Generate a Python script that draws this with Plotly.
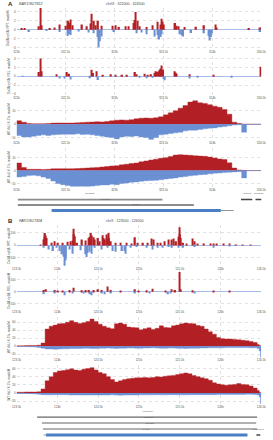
import plotly.graph_objects as go

W, H = 273, 440
RED = '#b22025'
BLUE = '#6b8fd3'
FONT = 'Liberation Sans, Arial, sans-serif'

# ---------------- Panel A data (chrIX : 322000 - 324500) ----------------
A1_pos_x = [322050, 322079, 322243, 322341, 322390, 322440, 322505, 322528, 322554, 322571,
            322669, 322719, 322768, 322791, 322833, 322866, 322981, 323014, 323047, 323112,
            323145, 323194, 323217, 323234, 323260, 323326, 323391, 323440, 323483, 323506,
            323621, 323654, 323719, 323834, 323916, 324031, 324375, 324490,
            322229, 322257, 322754, 322805, 323203, 323469, 323494, 322541, 323636, 324045]
A1_pos_y = [0.3, 0.3, 5.2, 0.4, 0.5, 1.2, 0.9, 2.0, 2.3, 1.0,
            1.2, 0.8, 3.6, 2.0, 2.0, 0.9, 0.9, 1.0, 0.6, 0.8,
            0.8, 1.5, 4.0, 2.0, 0.8, 0.6, 1.0, 1.8, 2.5, 1.2,
            1.5, 0.8, 0.6, 0.7, 1.0, 1.2, 0.4, 0.5,
            0.8, 1.0, 1.4, 1.0, 2.2, 1.2, 1.8, 1.6, 0.9, 0.5]
A1_neg_x = [322128, 322308, 322440, 322522, 322554, 322637, 322735, 322784, 322840, 322866,
            322997, 323227, 323276, 323326, 323408, 323457, 323483, 323670, 323703, 323785,
            323916, 323975, 323998, 324490,
            322538, 322826, 322853, 323442, 323472, 323688, 323962, 323988]
A1_neg_y = [-0.5, -0.3, -0.5, -1.4, -1.2, -0.4, -0.6, -0.8, -4.0, -1.5,
            -0.5, -0.8, -0.6, -1.0, -1.5, -2.2, -1.0, -1.0, -1.5, -0.7,
            -0.8, -2.4, -0.8, -0.5,
            -1.0, -1.6, -2.6, -1.2, -1.6, -1.2, -1.4, -1.6]

A2_pos_x = [322243, 322407, 322515, 322538, 322768, 322817, 322883, 322965, 323014, 323079,
            323128, 323211, 323227, 323309, 323342, 323375, 323408, 323424, 323450, 323463,
            323483, 323499, 323614, 323637, 323768, 324015, 324497,
            322230, 322256, 322783, 323437, 323473, 323626]
A2_pos_y = [4.1, 0.5, 1.0, 0.6, 1.5, 1.2, 0.4, 0.5, 0.3, 0.3,
            0.4, 1.0, 0.5, 0.6, 0.3, 0.5, 0.8, 1.2, 1.2, 1.5,
            2.5, 1.5, 1.2, 0.6, 0.5, 0.4, 2.2,
            1.0, 1.2, 0.8, 1.0, 1.8, 0.9]
A2_neg_x = [322062, 322440, 322489, 322554, 322751, 322833, 323260, 323326, 323391, 323516,
            323768, 323850, 324195, 323505]
A2_neg_y = [-0.1, -0.5, -0.5, -0.7, -0.4, -0.8, -0.3, -0.4, -0.3, -0.9,
            -0.5, -0.3, -0.2, -0.6]

A_cov_x = list(range(322000, 324501, 50))
A3_pos = [2.6, 1.5, 0.5, 0.4, 0.4, 0.4, 0.5, 0.8, 0.9, 0.9,
          0.8, 0.9, 1.0, 1.3, 1.5, 1.6, 1.8, 1.7, 2.0, 2.5,
          3.0, 3.2, 3.0, 3.4, 4.0, 4.5, 4.6, 4.4, 4.8, 5.5,
          7.0, 8.5, 10.0, 12.0, 14.0, 16.5, 17.5, 16.0, 15.5, 14.6,
          13.5, 12.6, 11.0, 7.5, 1.5, 0.5, 0.1, 0, 0, 0, 0]
A3_neg = [-8.5, -9.5, -9.6, -9.0, -8.4, -8.0, -8.4, -8.0, -7.8, -7.6,
          -7.5, -7.6, -7.2, -7.8, -7.6, -8.0, -8.5, -9.0, -9.5, -10.0,
          -11.0, -9.5, -9.0, -9.2, -8.8, -9.5, -10.0, -11.5, -10.0, -8.0,
          -7.5, -7.0, -6.5, -6.0, -5.0, -4.5, -4.5, -4.0, -3.5, -3.0,
          -2.8, -2.2, -1.8, -1.2, -0.6, -0.4, -6.0, 0, 0, 0, 0]
A4_pos = [5.9, 2.5, 1.0, 1.0, 1.0, 0.9, 1.0, 1.4, 1.5, 1.5,
          1.4, 1.5, 1.6, 1.8, 2.0, 2.2, 2.5, 2.8, 3.2, 3.6,
          3.8, 4.5, 5.0, 5.5, 5.9, 6.8, 7.5, 8.2, 8.8, 9.5,
          10.0, 10.8, 12.0, 12.3, 12.0, 11.8, 11.5, 11.2, 11.0, 10.5,
          9.8, 9.0, 8.5, 6.0, 2.0, 0.5, 0.2, 0, 0, 0, 0]
A4_neg = [-5.0, -4.5, -3.8, -3.5, -4.0, -5.0, -6.0, -8.0, -10.0, -10.8,
          -11.5, -12.8, -13.0, -12.5, -12.8, -12.0, -11.5, -11.0, -11.0, -10.5,
          -10.8, -10.0, -9.5, -9.0, -8.7, -8.2, -7.8, -7.7, -7.5, -7.0,
          -6.5, -6.0, -5.6, -5.0, -4.5, -4.0, -3.6, -3.2, -3.0, -2.5,
          -2.0, -1.8, -1.5, -1.2, -1.0, -0.8, -5.6, 0, 0, 0, 0]

A_gene_names = ["SUT812", "XUT0334", "BAR1", "ARS913", "SUT813"]
A_gene_start = [322013, 322013, 322358, 324293, 324441]
A_gene_end = [323490, 323811, 324087, 324408, 324507]
A_gene_row = [0, 1, 2, 0, 0]
A_gene_kind = ["nc", "nc", "cds", "small", "small"]
A_utr = [324087, 324218]

# ---------------- Panel B data (chrX : 123500 - 126500) ----------------
B1_pos_x = [123791, 123831, 123850, 123870, 123929, 123968, 124008, 124067, 124126, 124165,
            124197, 124217, 124244, 124303, 124343, 124390, 124413, 124441, 124461, 124500,
            124520, 124559, 124579, 124610, 124626, 124657, 124717, 124776, 124846, 124913,
            124953, 124980, 125051, 125110, 125157, 125177, 125228, 125268, 125315, 125366,
            125398, 125425, 125457, 125496, 125516, 125543, 125583, 125661, 125681, 125720,
            125799, 125878, 125917, 125957, 126035, 126114, 126193, 126272, 126370,
            123840, 123860, 124185, 124207, 124402, 124425, 124568, 124600, 124636, 125486, 125506]
B1_pos_y = [3, 47, 100, 60, 21, 34, 21, 21, 29, 34,
            134, 74, 21, 47, 40, 60, 100, 66, 47, 60,
            34, 82, 47, 87, 100, 34, 21, 21, 21, 13,
            66, 21, 21, 21, 55, 47, 21, 21, 34, 47,
            47, 55, 34, 145, 60, 21, 13, 55, 34, 13,
            8, 8, 16, 8, 13, 8, 5, 5, 5,
            70, 80, 40, 90, 70, 80, 60, 55, 60, 70, 90]
B1_neg_x = [123831, 123890, 123949, 123988, 124028, 124059, 124087, 124106, 124146, 124185,
            124283, 124343, 124362, 124394, 124421, 124461, 124539, 124618, 124677, 124717,
            124795, 124835, 124894, 124972, 125091, 125169, 125228, 125287, 125366, 125406,
            125484, 125543, 125681, 125917, 126114,
            124075, 124097, 124352, 124372, 124825]
B1_neg_y = [-18, -32, -45, -18, -45, -71, -163, -97, -32, -66,
            -39, -66, -92, -50, -66, -18, -32, -18, -45, -50,
            -45, -66, -18, -13, -18, -32, -18, -18, -13, -18,
            -18, -18, -13, -18, -8,
            -90, -120, -70, -60, -45]

B2_pos_x = [123831, 123862, 123968, 124008, 124067, 124146, 124197, 124303, 124343, 124390,
            124441, 124500, 124539, 124618, 124657, 124776, 124953, 124992, 125091, 125169,
            125327, 125398, 125445, 125496, 125516, 125661, 125917, 126114]
B2_pos_y = [14, 19, 14, 8, 8, 14, 33, 11, 14, 14,
            14, 19, 14, 42, 14, 8, 19, 8, 11, 25,
            8, 19, 14, 164, 19, 11, 8, 5]
B2_neg_x = [123831, 123968, 124087, 124185, 124323, 124402, 124421, 124539, 124579, 124657,
            124953, 125130, 125358, 125386, 125681]
B2_neg_y = [-22, -14, -31, -14, -14, -22, -31, -8, -22, -8,
            -8, -8, -22, -8, -8]

B_cov_x = list(range(123500, 126451, 50)) + [126475, 126490, 126500]
B3_pos = [1, 1, 1.5, 2, 2, 2.5, 8, 43, 50, 53,
          56, 57, 60, 64, 60, 57, 59, 62, 68, 62,
          55, 50, 46, 44, 56, 58, 55, 48, 47, 46,
          41, 44, 46, 42, 45, 51, 47, 46, 51, 53,
          56, 58, 57, 56, 52, 50, 43, 36, 30, 22,
          19, 18, 18, 17, 16, 15, 14, 12, 9, 4,
          2, 0, 0]
B3_neg = [-1, -1, -1, -1.5, -2, -3, -5, -7, -7, -7.5,
          -7, -6.5, -6.5, -6, -6, -5.5, -5, -5, -5.5, -5.5,
          -5, -5, -4.5, -5, -5.5, -5, -5, -4.5, -4.5, -5,
          -5, -4.5, -4.5, -4, -4.5, -5, -5, -4.5, -4.5, -5,
          -5, -5.5, -5, -5, -5, -4.5, -4.5, -4, -4, -4,
          -4, -3.5, -3.5, -3.5, -3.5, -3.5, -3.5, -4, -4, -6,
          -12, -30, -30]
B4_pos = [2, 2, 2.5, 2.5, 2.5, 3, 10, 30, 40, 50,
          54, 55, 57, 59, 56, 55, 58, 60, 62, 56,
          50, 47, 40, 33, 27, 30, 33, 35, 36, 37,
          37, 38, 37, 38, 40, 39, 41, 42, 43, 45,
          47, 49, 47, 43, 40, 37, 35, 31, 25, 22,
          20, 19, 20, 21, 23, 21, 20, 17, 12, 6,
          2, 0, 0]
B4_neg = [-1, -1, -1, -1.5, -2, -3, -4, -4.5, -4.5, -4,
          -4, -4, -4.5, -5, -5, -5, -5, -5, -5, -5,
          -5, -5, -5, -4.5, -5, -5.5, -5, -5, -5, -5,
          -4.5, -4.5, -4.5, -4.5, -4, -4.5, -4.5, -4, -4, -4,
          -4.5, -4.5, -4, -4, -4, -4, -4, -4, -4, -3.5,
          -3.5, -3.5, -3.5, -3.5, -3.5, -3.5, -3, -3, -3.5, -5,
          -10, -26, -26]

B_gene_names = ["XUT0710", "SUT304", "CUT211", "FAR1", "tK(CUU)J"]
B_gene_start = [123752, 123811, 123823, 123862, 126441]
B_gene_end = [126449, 126437, 126449, 126331, 126488]
B_gene_row = [0, 1, 2, 3, 3]
B_gene_kind = ["nc", "nc", "nc", "cds", "small"]
B_utr = [123831, 123862]

Y_TITLES_A = ["Dis3Δ rrp6Δ: RPT, reads/M", "Dis3Δ rrp6Δ: REL, reads/M",
              "WT 4sU: 0.5%, reads/M", "WT 4sU: 0.1%, reads/M"]
Y_TITLES_B = Y_TITLES_A

# ---------------- figure ----------------
fig = go.Figure()


def yd(top, bot):
    return [1 - bot / H, 1 - top / H]


XD = [12 / W, 266 / W]
layout = {}
annotations = []


def cov_axis(i, top, bot, yrange, yticks, xrange, dtick, title):
    xs = 'xaxis' if i == 1 else f'xaxis{i}'
    ys = 'yaxis' if i == 1 else f'yaxis{i}'
    layout[xs] = dict(domain=XD, range=xrange, anchor=f'y{i}' if i > 1 else 'y',
                      tickmode='linear', tick0=xrange[0], dtick=dtick, tickformat='~s',
                      showgrid=True, gridcolor='#e2e2e2', griddash='dot', gridwidth=0.5,
                      zeroline=False, showline=False, ticks='',
                      tickfont=dict(size=3, color='#555555', family=FONT), ticklen=0)
    layout[ys] = dict(domain=yd(top, bot), range=yrange, anchor=f'x{i}' if i > 1 else 'x',
                      tickvals=yticks, showgrid=True, gridcolor='#e2e2e2', griddash='dot',
                      gridwidth=0.5, zeroline=True, zerolinecolor='#a9bde8', zerolinewidth=0.7,
                      showline=False, ticks='',
                      tickfont=dict(size=3, color='#555555', family=FONT))
    annotations.append(dict(xref='paper', yref='paper', x=4 / W, y=1 - (top + bot) / 2 / H,
                            text=title, textangle=-90, showarrow=False,
                            font=dict(size=3, color='#555555', family=FONT),
                            xanchor='center', yanchor='middle'))


def bars(i, x, y, color, width):
    fig.add_trace(go.Bar(x=x, y=y, width=width, marker=dict(color=color, line=dict(width=0)),
                         xaxis='x' if i == 1 else f'x{i}', yaxis='y' if i == 1 else f'y{i}',
                         showlegend=False))


def area(i, x, y, color):
    fig.add_trace(go.Scatter(x=x, y=y, mode='lines', line=dict(color=color, width=0.4, shape='hv'),
                             fill='tozeroy', fillcolor=color,
                             xaxis=f'x{i}', yaxis=f'y{i}', showlegend=False))


A_RANGE = [322000, 324500]
B_RANGE = [123500, 126500]

cov_axis(1, 8, 49, [-4.3, 4.9], [-4, -2, 0, 2, 4], A_RANGE, 500, Y_TITLES_A[0])
cov_axis(2, 56, 95, [-4.2, 4.7], [-4, -2, 0, 2, 4], A_RANGE, 500, Y_TITLES_A[1])
cov_axis(3, 99, 140, [-11.6, 19], [-10, 0, 10], A_RANGE, 500, Y_TITLES_A[2])
cov_axis(4, 148, 187, [-12.3, 17.7], [-10, 0, 10], A_RANGE, 500, Y_TITLES_A[3])
cov_axis(6, 226, 267, [-168, 160], [-100, 0, 100], B_RANGE, 500, Y_TITLES_B[0])
cov_axis(7, 271, 310, [-147, 177], [-100, 0, 100], B_RANGE, 500, Y_TITLES_B[1])
cov_axis(8, 318, 358, [-27.5, 72.5], [-20, 0, 20, 40, 60], B_RANGE, 500, Y_TITLES_B[2])
cov_axis(9, 366, 405, [-27, 68], [-20, 0, 20, 40, 60], B_RANGE, 500, Y_TITLES_B[3])

bars(1, A1_pos_x, A1_pos_y, RED, 15)
bars(1, A1_neg_x, A1_neg_y, BLUE, 15)
bars(2, A2_pos_x, A2_pos_y, RED, 15)
bars(2, A2_neg_x, A2_neg_y, BLUE, 15)
area(3, A_cov_x, A3_pos, RED)
area(3, A_cov_x, A3_neg, BLUE)
area(4, A_cov_x, A4_pos, RED)
area(4, A_cov_x, A4_neg, BLUE)
bars(6, B1_pos_x, B1_pos_y, RED, 17)
bars(6, B1_neg_x, B1_neg_y, BLUE, 17)
bars(7, B2_pos_x, B2_pos_y, RED, 17)
bars(7, B2_neg_x, B2_neg_y, BLUE, 17)
area(8, B_cov_x, B3_pos, RED)
area(8, B_cov_x, B3_neg, BLUE)
area(9, B_cov_x, B4_pos, RED)
area(9, B_cov_x, B4_neg, BLUE)


# gene tracks
def gene_axis(i, top, bot, xrange, yrange):
    layout[f'xaxis{i}'] = dict(domain=XD, range=xrange, anchor=f'y{i}', visible=False)
    layout[f'yaxis{i}'] = dict(domain=yd(top, bot), range=yrange, anchor=f'x{i}', visible=False)


gene_axis(5, 193, 215, A_RANGE, [2.73, -1.27])
gene_axis(10, 410, 440, B_RANGE, [3.67, -1.33])


def genes(i, names, starts, ends, rows, kinds, utr, utr_row, nc_color, nc_width):
    fig.add_trace(go.Scatter(x=utr, y=[utr_row, utr_row], mode='lines',
                             line=dict(color='#777777', width=0.8),
                             xaxis=f'x{i}', yaxis=f'y{i}', showlegend=False))
    for n, s, e, r, k in zip(names, starts, ends, rows, kinds):
        if k == 'cds':
            col, wd = '#4a7fc4', 3.2
        elif k == 'small':
            col, wd = '#444444', 1.6
        else:
            col, wd = nc_color, nc_width
        fig.add_trace(go.Scatter(x=[s, e], y=[r, r], mode='lines',
                                 line=dict(color=col, width=wd),
                                 xaxis=f'x{i}', yaxis=f'y{i}', showlegend=False))
        annotations.append(dict(xref=f'x{i}', yref=f'y{i}', x=(s + e) / 2, y=r,
                                text=n, showarrow=False, yshift=2.2, yanchor='bottom',
                                font=dict(size=2.5, color='#555555', family=FONT)))


genes(5, A_gene_names, A_gene_start, A_gene_end, A_gene_row, A_gene_kind, A_utr, 2, '#8c8c8c', 1.8)
genes(10, B_gene_names, B_gene_start, B_gene_end, B_gene_row, B_gene_kind, B_utr, 3, '#666666', 1.2)

# panel headings
for letter, gene, title, ypx in [("A", "BAR1/SUT812", "chrIX : 322000 - 324500", 4),
                                 ("B", "FAR1/SUT304", "chrX : 123500 - 126500", 222)]:
    annotations.append(dict(xref='paper', yref='paper', x=1 / W, y=1 - ypx / H, text=f"<b>{letter}</b>",
                            showarrow=False, xanchor='left', yanchor='middle',
                            font=dict(size=6, color='#222222', family=FONT)))
    annotations.append(dict(xref='paper', yref='paper', x=12 / W, y=1 - ypx / H, text=f"<i>{gene}</i>",
                            showarrow=False, xanchor='left', yanchor='middle',
                            font=dict(size=3.6, color='#444444', family=FONT)))
    annotations.append(dict(xref='paper', yref='paper', x=125 / W, y=1 - ypx / H, text=title,
                            showarrow=False, xanchor='center', yanchor='middle',
                            font=dict(size=3.6, color='#444444', family=FONT)))

fig.update_layout(width=W, height=H, margin=dict(l=0, r=0, t=0, b=0),
                  paper_bgcolor='white', plot_bgcolor='white', barmode='overlay',
                  showlegend=False, annotations=annotations, font=dict(family=FONT), **layout)

fig.write_html("out.html")
